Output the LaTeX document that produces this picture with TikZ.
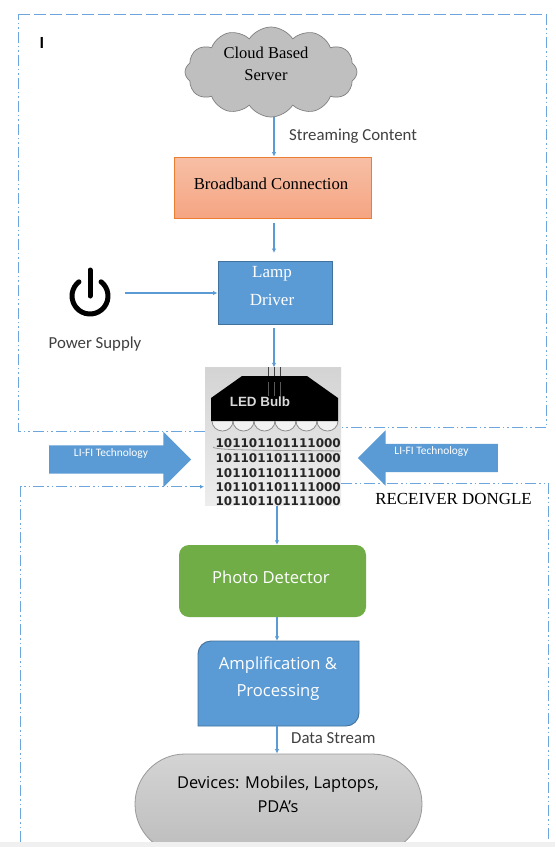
\documentclass[tikz,border=0pt]{standalone}
\usepackage{fontspec}
\setmainfont{Liberation Serif}
\newfontfamily\carl{Carlito}
\newfontfamily\opsans{Open Sans}
\newfontfamily\lisans{Liberation Sans}
\newfontfamily\dejav{DejaVu Sans}
\usetikzlibrary{arrows.meta,shapes.symbols,shapes.arrows,calc}
\definecolor{linkblue}{HTML}{5B9BD5}
\definecolor{darkblue}{HTML}{41719C}
\definecolor{framblue}{HTML}{6CA6DC}
\definecolor{orangeedge}{HTML}{ED7D31}
\definecolor{orangetop}{HTML}{F7BFA6}
\definecolor{orangebot}{HTML}{F5A582}
\definecolor{greenfill}{HTML}{70AD47}
\tikzset{
  link/.style={draw=linkblue,line width=1.1pt,-{Latex[length=4.5pt,width=4.5pt]}},
  framedash/.style={draw=framblue,line width=1pt,dash pattern=on 11pt off 3pt on 1.5pt off 3pt on 1.5pt off 3pt},
  framelong/.style={draw=framblue,line width=1pt,dash pattern=on 12pt off 4pt},
  bluebox/.style={fill=linkblue,draw=darkblue,line width=0.9pt,inner sep=0pt},
  bigarrow/.style={single arrow,fill=linkblue,inner xsep=0pt,inner ysep=14pt,single arrow head extend=13.5pt,minimum width=55pt,minimum height=142pt,single arrow tip angle=90},
  lifitext/.style={font=\carl\fontsize{11.4}{12}\selectfont,text=white,inner sep=0pt},
  graylabel/.style={font=\carl\fontsize{16.8}{18}\selectfont,text=black!75,inner sep=0pt},
  bintext/.style={font=\dejav\bfseries\fontsize{12}{14}\selectfont,text=black!85,inner sep=0pt},
  bulbloop/.style={draw=black!45,line width=0.8pt,fill=black!5},
}
\begin{document}
\begin{tikzpicture}[x=1pt,y=-1pt]
\useasboundingbox (0,0) rectangle (555,847);
\fill[white] (0,0) rectangle (555,847);
\coordinate (colA) at (274,0);
\coordinate (colB) at (277,0);

% LED bulb picture
\node[minimum width=136pt,minimum height=138pt,inner sep=0pt,top color=black!17,bottom color=black!7] (bulb) at (273,436.5) {};

% frames
\draw[framedash] (bulb.west |- 0,431) -- (18,431) -- (18,14);
\draw[framelong] (18,14) -- (546,14);
\draw[framedash] (546,14) -- (546,427.7) -- (bulb.east |- 0,427.7);
\draw[framedash] (20.5,842) -- (20.5,486.7) -- (190,486.7);
\draw[solid,line width=1pt,-{Latex[length=4pt,width=4pt]},draw=linkblue] (190,486.7) -- (204,486.7);
\draw[framedash] (bulb.east |- 0,483) -- (548,483) -- (548,842);

\node[font=\carl\bfseries\fontsize{17}{18}\selectfont,inner sep=0pt] (mark) at (42,43) {I};

% cloud
\node[cloud,cloud puffs=12,cloud puff arc=115,aspect=1.9,fill=black!25,draw=black!50,line width=0.7pt,minimum width=172pt,minimum height=90pt,inner sep=0pt] (cloud) at (271,72) {};
\node[font=\fontsize{16.5}{22}\selectfont,align=center,inner sep=0pt] (cloudtext) at (266,63.5) {Cloud Based\\Server};

% broadband
\node[top color=orangetop,bottom color=orangebot,draw=orangeedge,line width=0.9pt,minimum width=197pt,minimum height=61pt,inner sep=0pt] (broad) at (273,187.5) {};
\node[font=\fontsize{16.7}{18}\selectfont,inner sep=0pt] (broadtext) at (271,184) {Broadband Connection};

% lamp driver
\node[bluebox,minimum width=114pt,minimum height=63pt] (lamp) at (275,292.5) {};
\node[font=\fontsize{17}{28}\selectfont,text=white,align=center,inner sep=0pt] (lamptext) at (272,286) {Lamp\\Driver};

% power
\node[circle,minimum size=70pt,inner sep=0pt] (power) at (90,293) {};
\draw[line width=5pt,line cap=round] ([shift={(52:18pt)}]90,296) arc[start angle=52,delta angle=-284,radius=18pt];
\draw[line width=5pt,line cap=round] (90,270) -- (90,296);
\node[graylabel] (powertext) at (95,344) {Power Supply};

% streaming
\node[graylabel,anchor=west] (streamtext) at (289,136) {Streaming Content};

% bulb details
\draw[black!75,line width=1pt] (268,367) -- (268,377) (274,367) -- (274,377) (280,367) -- (280,377);
\foreach \i in {0,...,5}{
  \draw[bulbloop] ($(212,421)+(\i*21,0)$) arc[start angle=180,end angle=360,x radius=10.5pt,y radius=10pt];
}
\fill[black] (211,398) -- (242,376) -- (307,376) -- (338,398) -- (338,421) -- (211,421) -- cycle;
\draw[black!65,line width=0.6pt] (268,382) -- (268,396) (274,382) -- (274,396) (280,382) -- (280,396);
\node[font=\lisans\bfseries\fontsize{13.4}{14}\selectfont,text=white!85!black,inner sep=0pt] (ledtext) at (260,402) {LED Bulb};
\draw[black!40,line width=0.8pt] (213,447) .. controls (215,451) and (280,450) .. (341,451);
\foreach \y/\n in {443/b1,458/b2,473/b3,487/b4,501/b5}{
  \node[bintext,anchor=east] (\n) at (341,\y) {101101101111000};
}

% Li-Fi arrows
\node[bigarrow] (lifil) at (113,459.5) {};
\node[lifitext] (lifiltext) at (111,454) {LI-FI Technology};
\node[bigarrow,shape border rotate=180,minimum height=140pt] (lifir) at (435,458) {};
\node[lifitext] (lifirtext) at (431.5,452) {LI-FI Technology};

% receiver dongle
\node[font=\fontsize{16.9}{18}\selectfont,inner sep=0pt] (dongle) at (453.5,499.5) {RECEIVER DONGLE};

% photo detector
\node[fill=greenfill,rounded corners=10pt,minimum width=187pt,minimum height=72pt,inner sep=0pt] (photo) at (272.5,581) {};
\node[font=\opsans\fontsize{16.6}{18}\selectfont,text=white,inner sep=0pt] (phototext) at (271,577) {Photo Detector};

% amplification
\draw[fill=linkblue,draw=darkblue,line width=0.9pt] (198,726) [rounded corners=13pt] -- (198,641) [sharp corners] -- (359,641) [rounded corners=13pt] -- (359,726) [sharp corners] -- cycle;
\node[minimum width=161pt,minimum height=85pt,inner sep=0pt] (amp) at (278.5,683.5) {};
\node[font=\opsans\fontsize{16.6}{27}\selectfont,text=white,align=center,inner sep=0pt] (amptext) at (278,678.5) {Amplification \&\\Processing};

% devices
\node[draw=black!40,line width=0.8pt,top color=black!17,bottom color=black!26,rounded corners=50pt,minimum width=287pt,minimum height=100pt,inner sep=0pt] (devices) at (278.5,804) {};
\node[font=\opsans\fontsize{16.4}{24}\selectfont,align=center,inner sep=0pt] (devtext) at (278,794) {Devices: Mobiles, Laptops,\\PDA’s};
\node[graylabel,anchor=west] (datatext) at (291,738) {Data Stream};

% bottom strip
\fill[black!6] (0,842) rectangle (555,847);

% connectors
\draw[link] (colA |- cloud.south) -- (colA |- broad.north);
\draw[link,shorten <=5pt,shorten >=1pt] (colA |- broad.south) -- (colA |- 0,254);
\draw[link] (power.east) -- (lamp.west |- power.east);
\draw[link,shorten <=4pt] (colA |- lamp.south) -- (colA |- bulb.north);
\draw[link] (colB |- bulb.south) -- (colB |- photo.north);
\draw[link] (colB |- photo.south) -- (colB |- amp.north);
\draw[link] (colB |- amp.south) -- (colB |- devices.north);
\end{tikzpicture}
\end{document}
